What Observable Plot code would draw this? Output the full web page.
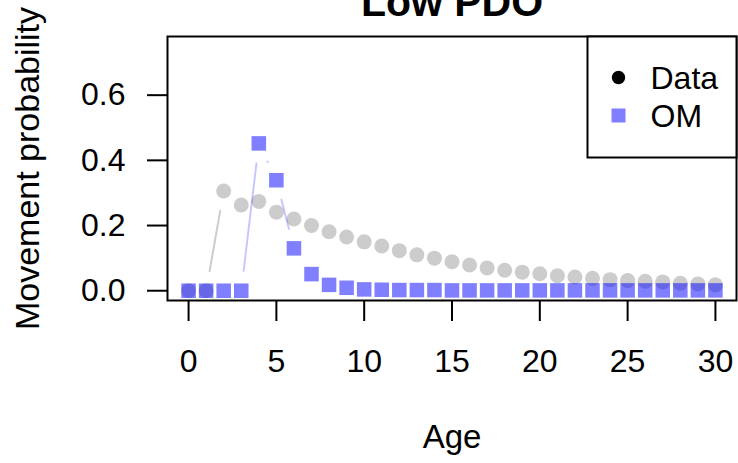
<!DOCTYPE html>
<html><head><meta charset="utf-8">
<script src="https://cdn.jsdelivr.net/npm/d3@7"></script>
<script src="https://cdn.jsdelivr.net/npm/@observablehq/plot@0.6"></script>
<style>html,body{margin:0;padding:0;background:#fff;overflow:hidden;}</style>
</head><body><div id="chart"></div>
<script>
const ages = [0,1,2,3,4,5,6,7,8,9,10,11,12,13,14,15,16,17,18,19,20,21,22,23,24,25,26,27,28,29,30];
const dataProb = [0, 0, 0.306, 0.263, 0.274, 0.241, 0.220, 0.200, 0.181, 0.165, 0.150, 0.137, 0.123, 0.110, 0.100, 0.089, 0.079, 0.070, 0.063, 0.057, 0.052, 0.046, 0.042, 0.038, 0.034, 0.031, 0.029, 0.027, 0.023, 0.021, 0.018];
const omProb = [0, 0, 0, 0, 0.452, 0.339, 0.130, 0.051, 0.018, 0.009, 0.004, 0.003, 0.002, 0.002, 0.002, 0.001, 0.001, 0.001, 0.001, 0.001, 0.001, 0.001, 0.001, 0.001, 0.001, 0.001, 0.001, 0.001, 0.001, 0.001, 0.001];
const xTicks = [0, 5, 10, 15, 20, 25, 30];
const yTicks = [0, 0.2, 0.4, 0.6];
const legendLabels = ["Data", "OM"];
const titleText = "Low PDO";
const xLabel = "Age";
const yLabel = "Movement probability";

const dataRows = ages.map((a, i) => ({age: a, p: dataProb[i]}));
const omRows = ages.map((a, i) => ({age: a, p: omProb[i]}));
const segs = rows => d3.pairs(rows).map(([a, b]) => ({x1: a.age, y1: a.p, x2: b.age, y2: b.p}));

const font = "'Liberation Sans', Arial, Helvetica, sans-serif";
const seg = {x1: "x1", y1: "y1", x2: "x2", y2: "y2", strokeWidth: 2, headLength: 0, insetStart: 20, insetEnd: 20};

const plot = Plot.plot({
  width: 738, height: 463,
  marginLeft: 167, marginRight: 2, marginTop: 36, marginBottom: 163,
  style: {fontFamily: font, fontSize: "32px", background: "white", color: "black"},
  x: {domain: [-1.2, 31.2]},
  y: {domain: [-0.03, 0.78]},
  marks: [
    Plot.arrow(segs(dataRows), {...seg, stroke: "black", strokeOpacity: 0.2}),
    Plot.dot(dataRows, {x: "age", y: "p", r: 7.5, fill: "black", fillOpacity: 0.2, stroke: "none"}),
    Plot.arrow(segs(omRows), {...seg, stroke: "blue", strokeOpacity: 0.22}),
    Plot.dot(omRows, {x: "age", y: "p", symbol: "square", r: 8.2, fill: "blue", fillOpacity: 0.5, stroke: "none"}),
    Plot.frame({stroke: "black", strokeWidth: 2}),
    Plot.axisX({ticks: xTicks, tickSize: 21, tickPadding: 28, tickFormat: d => String(d), fontSize: 32, strokeWidth: 2, label: null}),
    Plot.axisY({ticks: yTicks, tickSize: 20, tickPadding: 22, tickFormat: d3.format(".1f"), fontSize: 32, strokeWidth: 2, label: null}),
    // legend
    Plot.frame({insetLeft: 420, insetBottom: 143, fill: "white", stroke: "black", strokeWidth: 2}),
    Plot.dot([legendLabels[0]], {frameAnchor: "top-right", dx: -118, dy: 41, r: 6.7, fill: "black", stroke: "none"}),
    Plot.dot([legendLabels[1]], {frameAnchor: "top-right", dx: -118, dy: 79, symbol: "square", r: 7.9, fill: "blue", fillOpacity: 0.5, stroke: "none"}),
    Plot.text([legendLabels[0]], {text: d => d, frameAnchor: "top-right", dx: -86, dy: 30, textAnchor: "start", lineAnchor: "top", fontSize: 32}),
    Plot.text([legendLabels[1]], {text: d => d, frameAnchor: "top-right", dx: -86, dy: 68, textAnchor: "start", lineAnchor: "top", fontSize: 32}),
    // titles
    Plot.text([titleText], {text: d => d, frameAnchor: "top", dy: -50, lineAnchor: "top", fontWeight: "bold", fontSize: 41}),
    Plot.text([xLabel], {text: d => d, frameAnchor: "bottom", dy: 147, lineAnchor: "bottom", fontSize: 33}),
    Plot.text([yLabel], {text: d => d, frameAnchor: "left", dx: -139, rotate: -90, textAnchor: "middle", lineAnchor: "middle", fontSize: 34})
  ]
});
document.getElementById("chart").appendChild(plot);
</script>
</body></html>
